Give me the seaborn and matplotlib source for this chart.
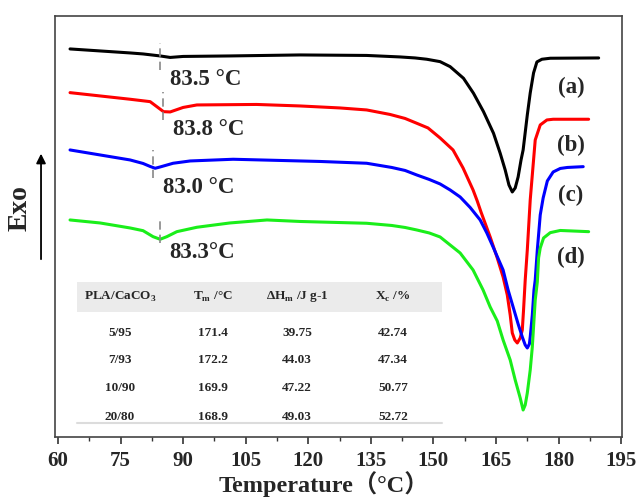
import numpy as np
import pandas as pd
import matplotlib
matplotlib.use("Agg")
import matplotlib.pyplot as plt
import seaborn as sns
from matplotlib.patches import Rectangle

# --- DSC curves (temperature in degC, heat flow in arbitrary offset units) ---
t_a = [62.9, 70.1, 77.3, 80.4, 84.5, 86.9, 90.0, 101.2, 118.0, 134.0, 142.0, 145.6, 148.4, 151.6,
       154.0, 157.2, 159.6, 162.0, 164.4, 166.0, 167.2, 168.1, 168.9, 169.6, 170.3, 171.0, 171.5,
       172.5, 173.2, 174.0, 174.8, 176.0, 178.0, 189.6]
hf_a = [3.88, 3.86, 3.84, 3.83, 3.81, 3.795, 3.805, 3.81, 3.82, 3.815, 3.80, 3.79, 3.777, 3.753,
        3.703, 3.587, 3.437, 3.253, 3.037, 2.837, 2.67, 2.52, 2.45, 2.49, 2.60, 2.77, 2.87,
        3.22, 3.44, 3.64, 3.75, 3.777, 3.787, 3.79]

t_b = [62.9, 70.1, 77.3, 82.1, 83.7, 85.3, 86.9, 90.0, 93.3, 107.6, 118.0, 127.6, 134.0, 139.6,
       143.2, 146.0, 148.7, 151.6, 154.7, 157.1, 159.5, 160.5, 161.4, 163.6, 165.3, 166.7, 167.7,
       168.4, 168.9, 169.5, 170.1, 170.8, 171.3, 171.6, 172.0, 172.5, 173.2, 174.4, 175.6, 177.2,
       178.7, 187.2]
hf_b = [3.443, 3.41, 3.377, 3.353, 3.303, 3.253, 3.25, 3.295, 3.32, 3.325, 3.31, 3.29, 3.27, 3.225,
        3.185, 3.137, 3.09, 2.99, 2.87, 2.69, 2.47, 2.36, 2.25, 2.00, 1.79, 1.60, 1.42,
        1.22, 1.04, 0.97, 0.94, 0.99, 1.07, 1.27, 1.57, 1.87, 2.37, 2.97, 3.12, 3.17,
        3.177, 3.177]

t_c = [62.9, 70.1, 77.3, 80.4, 82.1, 83.3, 84.5, 87.6, 91.7, 102.0, 122.8, 134.0, 140.0, 143.2,
       146.0, 149.0, 151.6, 154.0, 156.4, 158.8, 161.2, 162.8, 164.3, 166.7, 167.9, 169.1, 170.3,
       171.3, 172.0, 172.5, 173.0, 173.2, 173.7, 174.1, 174.4, 174.9, 175.6, 176.3, 177.3, 178.7,
       180.4, 182.1, 185.9]
hf_c = [2.87, 2.82, 2.77, 2.735, 2.705, 2.687, 2.70, 2.737, 2.76, 2.777, 2.755, 2.737, 2.695, 2.665,
        2.62, 2.575, 2.53, 2.47, 2.40, 2.295, 2.17, 2.04, 1.90, 1.67, 1.47, 1.30, 1.13,
        1.00, 0.92, 0.89, 0.93, 1.00, 1.22, 1.47, 1.57, 1.87, 2.22, 2.39, 2.56, 2.65,
        2.685, 2.695, 2.703]

t_d = [62.9, 70.1, 77.3, 80.4, 82.8, 84.5, 86.1, 88.5, 93.3, 101.2, 110.1, 118.0, 134.0, 140.0,
       143.2, 146.0, 149.0, 151.6, 154.0, 156.4, 159.5, 161.9, 163.6, 165.3, 166.7, 168.4, 169.6,
       170.8, 171.5, 172.0, 172.5, 173.2, 173.7, 174.4, 174.9, 175.2, 175.6, 176.4, 178.0, 180.4,
       187.2]
hf_d = [2.17, 2.14, 2.09, 2.063, 2.003, 1.977, 2.003, 2.053, 2.097, 2.14, 2.17, 2.155, 2.137, 2.115,
        2.095, 2.07, 2.04, 2.00, 1.92, 1.84, 1.67, 1.47, 1.30, 1.16, 0.97, 0.77, 0.57,
        0.39, 0.27, 0.32, 0.44, 0.67, 0.90, 1.37, 1.55, 1.79, 1.89, 1.99, 2.043, 2.065,
        2.053]

curve_labels = ["(a)", "(b)", "(c)", "(d)"]
curve_colors = ["black", "#ff0000", "#0000ff", "#1aee1a"]

# glass transition markers
tg_labels = ["83.5 °C", "83.8 °C", "83.0 °C", "83.3°C"]
tg_x = [84.5, 85.2, 82.8, 84.5]
tg_top = [3.94, 3.45, 2.87, 2.20]
tg_bottom = [3.67, 3.17, 2.59, 1.94]

# inset table
tbl_header = ["PLA/CaCO$_\\mathbf{3}$", "T$_\\mathbf{m}$ /°C", "ΔH$_\\mathbf{m}$ /J g-1", "X$_\\mathbf{c}$ /%"]
tbl_rows = [["5/95", "171.4", "39.75", "42.74"],
            ["7/93", "172.2", "44.03", "47.34"],
            ["10/90", "169.9", "47.22", "50.77"],
            ["20/80", "168.9", "49.03", "52.72"]]

# --- Style ---
sns.set_theme(style="white")
plt.rcParams["font.family"] = ["Liberation Serif", "Noto Sans CJK SC", "DejaVu Sans"]
plt.rcParams["font.weight"] = "bold"
plt.rcParams["mathtext.fontset"] = "custom"
plt.rcParams["mathtext.rm"] = "Liberation Serif:bold"
plt.rcParams["mathtext.bf"] = "Liberation Serif:bold"

fig = plt.figure(figsize=(6.36, 4.98), dpi=100)
ax = fig.add_axes([0.0865, 0.1225, 0.8915, 0.8455])

series = [(t_a, hf_a), (t_b, hf_b), (t_c, hf_c), (t_d, hf_d)]
for (t, hf), col in zip(series, curve_colors):
    df = pd.DataFrame({"T": t, "HF": hf})
    sns.lineplot(data=df, x="T", y="HF", color=col, lw=2.2, ax=ax, sort=False,
                 solid_joinstyle="round", solid_capstyle="round")

# Tg dashed markers + labels
for x, y0, y1, lab in zip(tg_x, tg_bottom, tg_top, tg_labels):
    ax.plot([x, x], [y0, y1], color="#888888", lw=1.2, ls=(0, (5, 3)))
    ax.text(x + 2.3, y0 - 0.1, lab, fontsize=16.5, fontweight="bold", ha="left", va="center")

# curve labels
lab_y = [3.49, 2.92, 2.42, 1.80]
for lab, y in zip(curve_labels, lab_y):
    ax.text(183.0, y, lab, fontsize=16.5, fontweight="bold", ha="center", va="center")

# inset table
ax.add_patch(Rectangle((64.6, 1.25), 152.1 - 64.6, 0.30, color="#ebebeb", lw=0, zorder=0.5))
ax.plot([64.6, 152.1], [0.14, 0.14], color="#dcdcdc", lw=1.5, zorder=0.5)
col_x = [74.9, 97.2, 117.3, 140.3]
row_y = [1.04, 0.77, 0.49, 0.20]
for cx, h in zip(col_x, tbl_header):
    ax.text(cx, 1.40, h, fontsize=9.5, fontweight="bold", ha="center", va="center")
for ry, row in zip(row_y, tbl_rows):
    for cx, v in zip(col_x, row):
        ax.text(cx, ry, v, fontsize=9.5, fontweight="bold", ha="center", va="center")

# axes
ax.set_xlim(59.3, 195.2)
ax.set_ylim(0, 4.21)
ax.set_xticks(np.arange(60, 196, 15))
ax.set_xticks(np.arange(67.5, 195, 15), minor=True)
ax.set_yticks([])
ax.set_xlabel("")
ax.set_ylabel("")
ax.tick_params(axis="x", which="major", direction="out", length=5, width=1.2,
               bottom=True, top=False, labelsize=15, pad=5, color="#333333")
ax.tick_params(axis="x", which="minor", direction="out", length=3, width=1.0,
               bottom=True, top=False, color="#333333")
for lbl in ax.get_xticklabels():
    lbl.set_fontweight("bold")
for sp in ax.spines.values():
    sp.set_color("#444444")
    sp.set_linewidth(1.2)

fig.text(0.509, 0.002, "Temperature（°C）", fontsize=17.5, fontweight="bold",
         ha="center", va="bottom")
fig.text(0.031, 0.582, "Exo", fontsize=20, fontweight="bold", rotation=90,
         ha="center", va="center")
ax.annotate("", xy=(0.0645, 0.697), xytext=(0.0645, 0.474),
            xycoords="figure fraction", textcoords="figure fraction",
            arrowprops=dict(arrowstyle="-|>", color="black", lw=1.3, mutation_scale=14))

fig.savefig("out.png", dpi=100)
